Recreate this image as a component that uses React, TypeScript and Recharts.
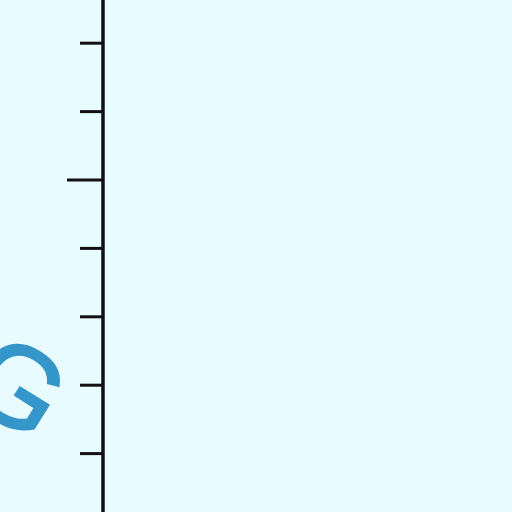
import React from "react";
import { LineChart, Line, XAxis, YAxis } from "recharts";

const categories = ["a", "b"];
const values = [3, 7];
const yTicks = [0, 1, 2, 3, 4, 5, 6, 7, 8, 9, 10];
const majorTicks = [0, 5, 10];
const axisTitle = "G";

const data = categories.map((c, i) => ({ name: c, v: values[i] }));

const TOP = -172;
const MINOR_LEN = 23;
const MAJOR_LEN = 36;

// draws the tick mark itself so major ticks can be longer
const TickMark = (props: any) => {
  const { x, y, payload } = props;
  const axisX = x + MINOR_LEN;
  const len = majorTicks.includes(payload.value) ? MAJOR_LEN : MINOR_LEN;
  return (
    <line x1={axisX - len} y1={y} x2={axisX} y2={y} stroke="#111" strokeWidth={3} />
  );
};

const TitleLabel = () => (
  <text
    x={18}
    y={386 - TOP}
    transform={`rotate(32 18 ${386 - TOP})`}
    textAnchor="middle"
    dominantBaseline="central"
    fontFamily="Liberation Sans"
    fontSize={114}
    fill="#3596c9"
    stroke="#3596c9"
    strokeWidth={2.5}
  >
    {axisTitle}
  </text>
);

export default function App() {
  return (
    <div
      style={{
        position: "fixed",
        left: 0,
        top: 0,
        width: 512,
        height: 512,
        overflow: "hidden",
        background: "#e8fbfe",
      }}
    >
      <div style={{ position: "absolute", left: 0, top: TOP }}>
        <LineChart
          width={512}
          height={704}
          data={data}
          margin={{ top: 10, right: 0, bottom: 10, left: 0 }}
        >
          <XAxis dataKey="name" hide />
          <YAxis
            type="number"
            width={103}
            domain={[0, 10]}
            ticks={yTicks}
            interval={0}
            tick={TickMark}
            tickSize={MINOR_LEN}
            tickMargin={0}
            tickLine={false}
            axisLine={{ stroke: "#111", strokeWidth: 3.5 }}
            label={{ content: TitleLabel }}
          />
          <Line
            dataKey="v"
            stroke="none"
            dot={false}
            activeDot={false}
            isAnimationActive={false}
          />
        </LineChart>
      </div>
    </div>
  );
}
